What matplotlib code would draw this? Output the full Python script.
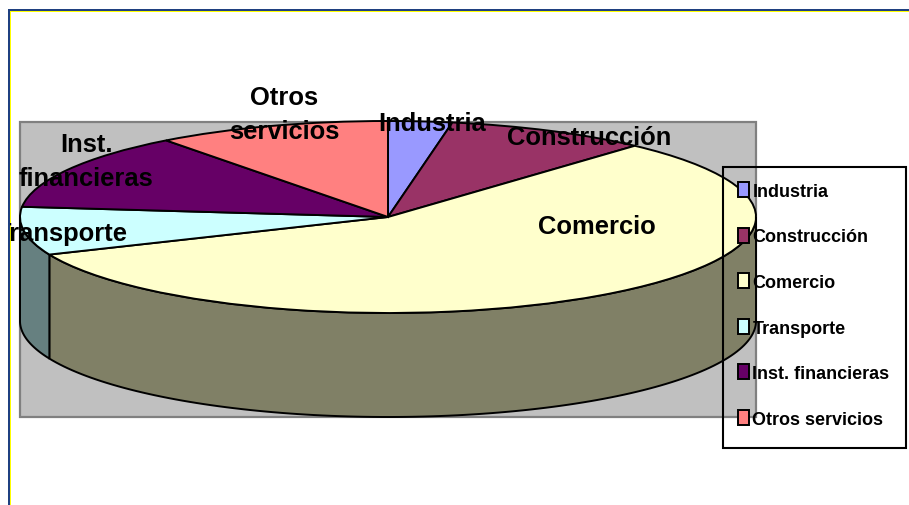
#!/usr/bin/env python

import matplotlib
matplotlib.use('Agg')
import matplotlib.pyplot as plt
from matplotlib.patches import Rectangle
from matplotlib.transforms import Bbox, TransformedBbox
import numpy as np

plt.rcParams['font.family'] = ['Liberation Sans', 'DejaVu Sans']

# Data (percent)
categories = ['Industria', 'Construcción', 'Comercio', 'Transporte', 'Inst. financieras', 'Otros servicios']
shares = [2.8, 8.9, 56.9, 8.1, 13.0, 10.3]
colors = ['#9999FF', '#993366', '#FFFFCC', '#CCFFFF', '#660066', '#FF8080']
side_colors = ['#4D4D80', '#4D1A33', '#808066', '#668080', '#330033', '#804040']
pie_labels = ['Industria', 'Construcción', 'Comercio', 'Transporte', 'Inst.\nfinancieras', 'Otros\nservicios']

W, H = 909, 506
CX, CY, RX, RY, DEPTH = 388, 218, 368, 96, 104


def fx(x):
    return x / W


def fy(y):
    return 1 - y / H


fig = plt.figure(figsize=(W / 100, H / 100), dpi=100)

# Slide frame, blue with a thin yellow line inside
for x, y, w, h, c in [(8, 10, W, 2, '#1F4080'), (8, 10, 2, H, '#1F4080'),
                      (10, 12, W, 1, '#FFFF00'), (10, 12, 1, H, '#FFFF00')]:
    fig.add_artist(Rectangle((fx(x), fy(y + h)), w / W, h / H, transform=fig.transFigure,
                             color=c, lw=0, zorder=-2, snap=False))

# Gray plot area
fig.add_artist(Rectangle((fx(20), fy(418)), 736 / W, 295 / H, transform=fig.transFigure,
                         facecolor='#C0C0C0', edgecolor='#808080', lw=1.6, zorder=-1))

# One axes over the whole figure, data units are the pie radius
ax = fig.add_axes([0, 0, 1, 1])
wedges, _ = ax.pie(shares, colors=colors, startangle=90, counterclock=False,
                   wedgeprops={'edgecolor': 'black', 'linewidth': 1.4, 'zorder': 3})
ax.set_aspect('auto')
ax.set_xlim(-CX / RX, (W - CX) / RX)
ax.set_ylim((CY - H) / RY, CY / RY)
ax.axis('off')

# Side wall of the front half of the pie
edges = np.concatenate([[0], np.cumsum(shares)]) / np.sum(shares) * 360
depth = DEPTH / RY
for i in range(len(shares)):
    start, stop = max(edges[i], 90), min(edges[i + 1], 270)
    if start >= stop:
        continue
    t = np.radians(np.linspace(start, stop, 120))
    xs = np.concatenate([np.sin(t), np.sin(t[::-1])])
    ys = np.concatenate([np.cos(t), np.cos(t[::-1]) - depth])
    ax.fill(xs, ys, facecolor=side_colors[i], edgecolor='black', linewidth=1.4, zorder=2)

# Labels on the pie, the first letter of Transporte is cut by the frame
label_pos = [(432, 124), (589, 138), (597, 227), (61.5, 234), (86, 162), (284, 115)]
for label, (x, y) in zip(pie_labels, label_pos):
    t = fig.text(fx(x), fy(y), label, fontsize=18.4, fontweight='bold', ha='center', va='center',
                 linespacing=1.5, zorder=4)
    t.set_clip_box(TransformedBbox(Bbox([[fx(10), 0], [1, 1]]), fig.transFigure))
    t.set_clip_on(True)

# Legend has no fill, the pie shows through; box drawn apart as its padding is uneven
fig.add_artist(Rectangle((fx(723), fy(449)), 183 / W, 281 / H, transform=fig.transFigure,
                         facecolor='none', edgecolor='black', lw=1.5, zorder=5))
leg = fig.legend(wedges, categories, loc='upper left', bbox_to_anchor=(fx(723), fy(168)),
                 prop={'size': 13, 'weight': 'bold'}, frameon=False, borderaxespad=0,
                 handlelength=0.6, handleheight=0.9, handletextpad=0.2,
                 labelspacing=1.545, borderpad=0.83)

fig.savefig('out.png', dpi=100)
